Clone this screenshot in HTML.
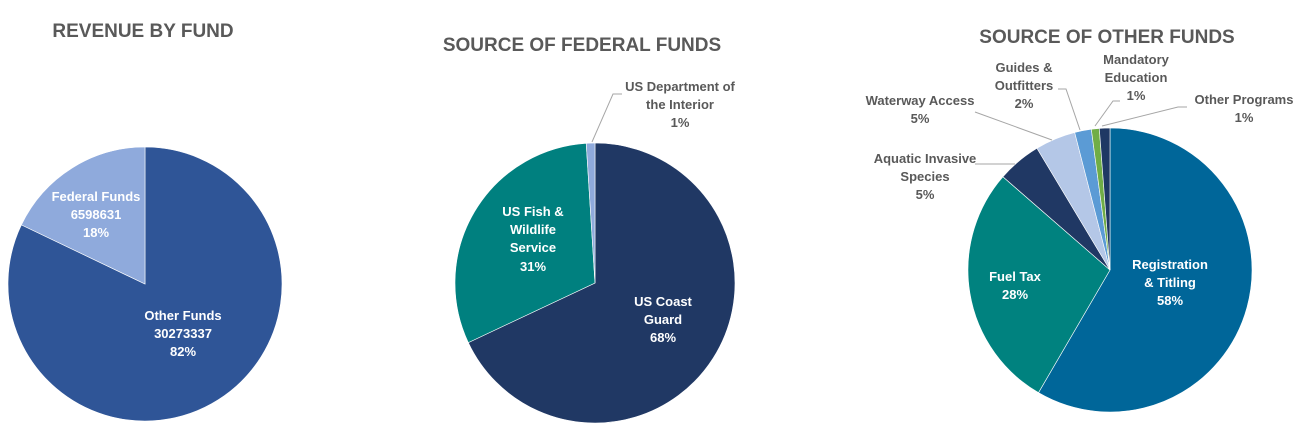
<!DOCTYPE html>
<html><head><meta charset="utf-8"><style>
body{margin:0;background:#fff;width:1301px;height:426px;overflow:hidden}
svg text{font-family:"Liberation Sans",sans-serif;font-weight:bold}
.t{font-size:19px;fill:#595959}
.l{font-size:13px;fill:#595959}
.w{font-size:13px;fill:#fff}
</style></head><body>
<svg id="s" width="1301" height="426" xmlns="http://www.w3.org/2000/svg">
<g id="pies"></g>
<text class="t" x="143" y="37" text-anchor="middle">REVENUE BY FUND</text>
<text class="t" x="582" y="51" text-anchor="middle">SOURCE OF FEDERAL FUNDS</text>
<text class="t" x="1107" y="43" text-anchor="middle">SOURCE OF OTHER FUNDS</text>

<text class="w" text-anchor="middle"><tspan x="96" y="201">Federal Funds</tspan><tspan x="96" y="219">6598631</tspan><tspan x="96" y="237">18%</tspan></text>
<text class="w" text-anchor="middle"><tspan x="183" y="320">Other Funds</tspan><tspan x="183" y="338">30273337</tspan><tspan x="183" y="356">82%</tspan></text>

<text class="w" text-anchor="middle"><tspan x="533" y="216">US Fish &amp;</tspan><tspan x="533" y="234">Wildlife</tspan><tspan x="533" y="252">Service</tspan><tspan x="533" y="271">31%</tspan></text>
<text class="w" text-anchor="middle"><tspan x="663" y="306">US Coast</tspan><tspan x="663" y="324">Guard</tspan><tspan x="663" y="342">68%</tspan></text>
<text class="l" text-anchor="middle"><tspan x="680" y="91">US Department of</tspan><tspan x="680" y="109">the Interior</tspan><tspan x="680" y="127">1%</tspan></text>
<polyline points="622,94 613,94 592,142" fill="none" stroke="#a6a6a6"/>

<text class="w" text-anchor="middle"><tspan x="1170" y="269">Registration</tspan><tspan x="1170" y="287">&amp; Titling</tspan><tspan x="1170" y="305">58%</tspan></text>
<text class="w" text-anchor="middle"><tspan x="1015" y="281">Fuel Tax</tspan><tspan x="1015" y="299">28%</tspan></text>
<text class="l" text-anchor="middle"><tspan x="925" y="163">Aquatic Invasive</tspan><tspan x="925" y="181">Species</tspan><tspan x="925" y="199">5%</tspan></text>
<text class="l" text-anchor="middle"><tspan x="920" y="105">Waterway Access</tspan><tspan x="920" y="123">5%</tspan></text>
<text class="l" text-anchor="middle"><tspan x="1024" y="72">Guides &amp;</tspan><tspan x="1024" y="90">Outfitters</tspan><tspan x="1024" y="108">2%</tspan></text>
<text class="l" text-anchor="middle"><tspan x="1136" y="64">Mandatory</tspan><tspan x="1136" y="82">Education</tspan><tspan x="1136" y="100">1%</tspan></text>
<text class="l" text-anchor="middle"><tspan x="1244" y="104">Other Programs</tspan><tspan x="1244" y="122">1%</tspan></text>
<g fill="none" stroke="#a6a6a6">
<polyline points="975,164 1015,164"/>
<polyline points="975,112 1052,140"/>
<polyline points="1058,89 1066,89 1080,130"/>
<polyline points="1120,101 1113,101 1095,126"/>
<polyline points="1187,107 1178,107 1102,126"/>
</g>
</svg>
<script>
function pie(cx,cy,r,parts){
 var g=document.getElementById('pies'),a=0,s='';
 parts.forEach(function(p){
  var a0=a,a1=a+p[0]*Math.PI*2;a=a1;
  var x0=cx+r*Math.sin(a0),y0=cy-r*Math.cos(a0),x1=cx+r*Math.sin(a1),y1=cy-r*Math.cos(a1);
  s+='<path d="M'+cx+','+cy+'L'+x0+','+y0+'A'+r+','+r+' 0 '+((a1-a0)>Math.PI?1:0)+' 1 '+x1+','+y1+'Z" fill="'+p[1]+'" stroke="#fff" stroke-width="0.6"/>';
 });
 g.innerHTML+=s;
}
pie(145,284,137,[[0.821,'#2F5597'],[0.179,'#8FAADC']]);
pie(595,283,140,[[0.68,'#203864'],[0.31,'#00807F'],[0.01,'#8FAADC']]);
pie(1110,270,142,[[0.584,'#006699'],[0.28,'#00827F'],[0.05,'#203864'],[0.046,'#B4C7E7'],[0.019,'#5B9BD5'],[0.009,'#70AD47'],[0.012,'#1F3864']]);
</script>
</body></html>
